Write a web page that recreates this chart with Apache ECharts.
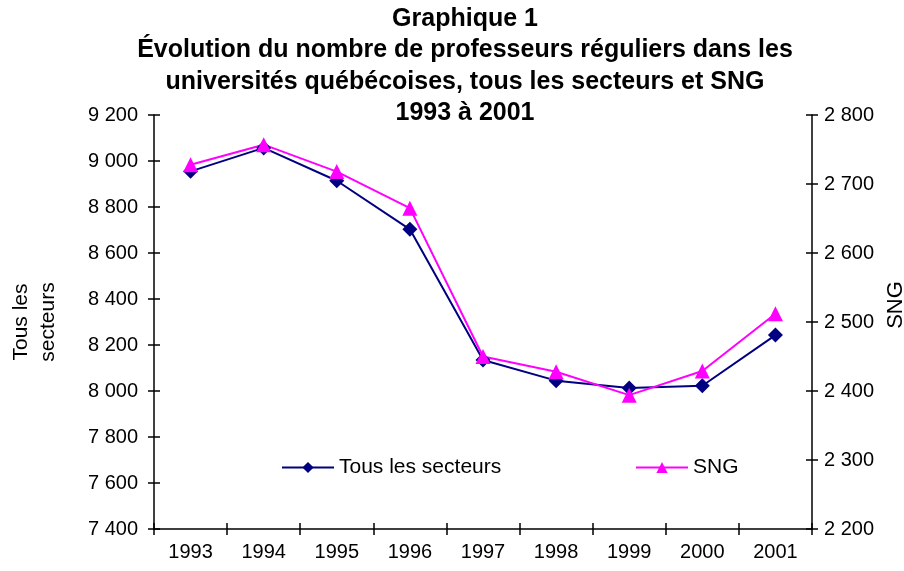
<!DOCTYPE html>
<html><head><meta charset="utf-8">
<script src="https://cdn.jsdelivr.net/npm/echarts@6/dist/echarts.min.js"></script>
<style>html,body{margin:0;padding:0;background:#fff}#c{width:904px;height:571px}</style>
</head><body><div id="c"></div>
<script>
const categories = ['1993','1994','1995','1996','1997','1998','1999','2000','2001'];
const tousLesSecteurs = [8955, 9057, 8914, 8703, 8135, 8045, 8013, 8023, 8243];
const sng = [2728, 2757, 2718, 2665, 2450, 2428, 2394, 2429, 2512];
const titleLines = ['Graphique 1', 'Évolution du nombre de professeurs réguliers dans les', 'universités québécoises, tous les secteurs et SNG', '1993 à 2001'];
const seriesNames = ['Tous les secteurs', 'SNG'];

const FONT = '"Liberation Sans", Arial, sans-serif';
const fmt = v => String(v).replace(/\B(?=(\d{3})+(?!\d))/g, ' ');
const chart = echarts.init(document.getElementById('c'));
const axisLine = {show: true, lineStyle: {color: '#000', width: 1.5}};
const tickStyle = {color: '#000', width: 1.5};
chart.setOption({
  animation: false,
  backgroundColor: '#fff',
  title: {
    text: titleLines.join('\n'), left: 465, top: 3, textAlign: 'center', padding: 0,
    textStyle: {fontFamily: FONT, fontWeight: 'bold', fontSize: 25, lineHeight: 31.5, color: '#000'}
  },
  legend: [
    {data: [seriesNames[0]], left: 281, top: 457, padding: 0, itemWidth: 52, itemHeight: 14,
     textStyle: {fontFamily: FONT, fontSize: 21, color: '#000'}},
    {data: [seriesNames[1]], left: 635, top: 457, padding: 0, itemWidth: 52, itemHeight: 14,
     textStyle: {fontFamily: FONT, fontSize: 21, color: '#000'}}
  ],
  grid: {left: 154, right: 92, top: 115, bottom: 42, containLabel: false, outerBoundsMode: 'none'},
  xAxis: [
    {type: 'category', data: categories, boundaryGap: true,
     axisLine: axisLine,
     axisTick: {show: true, inside: false, length: 6, lineStyle: tickStyle},
     axisLabel: {fontFamily: FONT, fontSize: 20, color: '#000', margin: 13},
     splitLine: {show: false}},
    {type: 'category', data: categories, boundaryGap: true, position: 'bottom',
     axisLine: {show: false},
     axisTick: {show: true, inside: true, length: 6, lineStyle: tickStyle},
     axisLabel: {show: false}, splitLine: {show: false}}
  ],
  yAxis: [
    {type: 'value', min: 7400, max: 9200, interval: 200, position: 'left',
     name: 'Tous les\nsecteurs', nameLocation: 'middle', nameRotate: 90, nameGap: 92,
     nameTextStyle: {fontFamily: FONT, fontSize: 21, color: '#000', lineHeight: 27},
     axisLine: axisLine,
     axisTick: {show: true, length: 6, lineStyle: tickStyle},
     axisLabel: {fontFamily: FONT, fontSize: 20, color: '#000', margin: 16, formatter: fmt},
     splitLine: {show: false}},
    {type: 'value', min: 2200, max: 2800, interval: 100, position: 'right',
     name: 'SNG', nameLocation: 'middle', nameRotate: 90, nameGap: 70,
     nameTextStyle: {fontFamily: FONT, fontSize: 22, color: '#000', padding: [0, 0, 0, 34]},
     axisLine: axisLine,
     axisTick: {show: true, length: 6, lineStyle: tickStyle},
     axisLabel: {fontFamily: FONT, fontSize: 20, color: '#000', margin: 12, formatter: fmt},
     splitLine: {show: false}},
    {type: 'value', min: 7400, max: 9200, interval: 200, position: 'left',
     axisLine: {show: false}, axisTick: {show: true, inside: true, length: 6, lineStyle: tickStyle},
     axisLabel: {show: false}, splitLine: {show: false}},
    {type: 'value', min: 2200, max: 2800, interval: 100, position: 'right',
     axisLine: {show: false}, axisTick: {show: true, inside: true, length: 6, lineStyle: tickStyle},
     axisLabel: {show: false}, splitLine: {show: false}}
  ],
  series: [
    {name: seriesNames[0], type: 'line', xAxisIndex: 0, yAxisIndex: 0, data: tousLesSecteurs,
     symbol: 'diamond', symbolSize: 15, color: '#000080',
     lineStyle: {color: '#000080', width: 2}, itemStyle: {color: '#000080'}},
    {name: seriesNames[1], type: 'line', xAxisIndex: 0, yAxisIndex: 1, data: sng,
     symbol: 'triangle', symbolSize: 15, color: '#FF00FF',
     lineStyle: {color: '#FF00FF', width: 2}, itemStyle: {color: '#FF00FF'}}
  ]
});
</script></body></html>
